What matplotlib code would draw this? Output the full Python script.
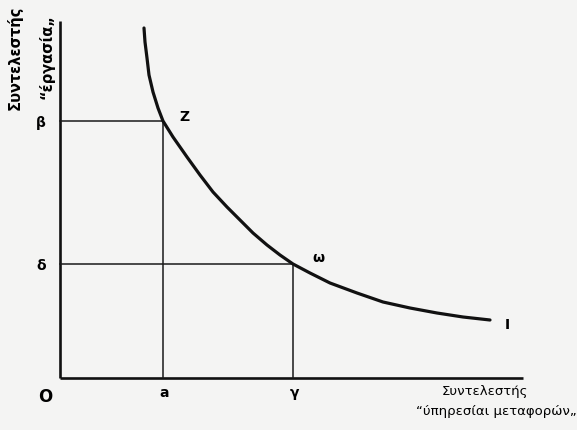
import matplotlib
matplotlib.use("Agg")
import matplotlib.pyplot as plt

# isoquant I (origin at the axes corner)
curve_x = [84, 85, 87, 89, 93, 98, 103, 113, 127, 140, 153, 167, 180, 193,
           207, 220, 233, 250, 270, 297, 323, 350, 377, 403, 430]
curve_y = [350, 336, 320, 303, 286, 270, 257, 241, 221, 203, 186, 171, 158, 145,
           133, 123, 114, 105, 95, 85, 76, 70, 65, 61, 58]

# the two marked points Z and omega
point_x = [103, 233]
point_y = [257, 114]
point_names = ["Z", "ω"]
x_ticks = ["a", "γ"]
y_ticks = ["β", "δ"]

x_label = ["Συντελεστής", "“ύπηρεσίαι μεταφορών„"]
y_label = ["Συντελεστής", "“έργασία„"]

fig = plt.figure(figsize=(5.77, 4.30), dpi=100)
fig.patch.set_facecolor("#f4f4f3")
ax = fig.add_axes([0, 0, 1, 1])
ax.set_facecolor("#f4f4f3")
ax.set_xlim(-60, 517)
ax.set_ylim(-52, 378)
ax.axis("off")

# axes of the diagram
ax.plot([0, 0], [0, 357], color="#111111", lw=1.9, solid_capstyle="butt")
ax.plot([0, 463], [0, 0], color="#111111", lw=1.9, solid_capstyle="butt")

# guide lines
for px, py in zip(point_x, point_y):
    ax.plot([px, px], [0, py], color="#1a1a1a", lw=1.1)
    ax.plot([0, px], [py, py], color="#1a1a1a", lw=1.1)

ax.plot(curve_x, curve_y, color="#111111", lw=2.3, solid_capstyle="round",
        solid_joinstyle="round")

fs = 10
for px, name in zip(point_x, x_ticks):
    ax.text(px + 1, -15, name, ha="center", va="center", fontsize=fs, fontweight="bold")
for py, name in zip(point_y, y_ticks):
    ax.text(-19, py - 2, name, ha="center", va="center", fontsize=fs, fontweight="bold")
ax.text(-15, -19, "O", ha="center", va="center", fontsize=12, fontweight="bold")

ax.text(point_x[0] + 21, point_y[0] + 4, point_names[0], ha="center", va="center",
        fontsize=fs, fontweight="bold")
ax.text(point_x[1] + 25, point_y[1] + 6, point_names[1], ha="center", va="center",
        fontsize=fs, fontweight="bold")
ax.text(curve_x[-1] + 17, curve_y[-1] - 5, "I", ha="center", va="center",
        fontsize=fs, fontweight="bold")

ax.text(-45, 320, y_label[0], rotation=90, ha="center", va="center", fontsize=10.5,
        fontweight="bold")
ax.text(-13, 321, y_label[1], rotation=90, ha="center", va="center", fontsize=10.5,
        fontweight="bold")
ax.text(425, -13, x_label[0], ha="center", va="center", fontsize=9.5)
ax.text(436, -34, x_label[1], ha="center", va="center", fontsize=9.5)

fig.savefig("out.png", dpi=100, facecolor=fig.get_facecolor())
